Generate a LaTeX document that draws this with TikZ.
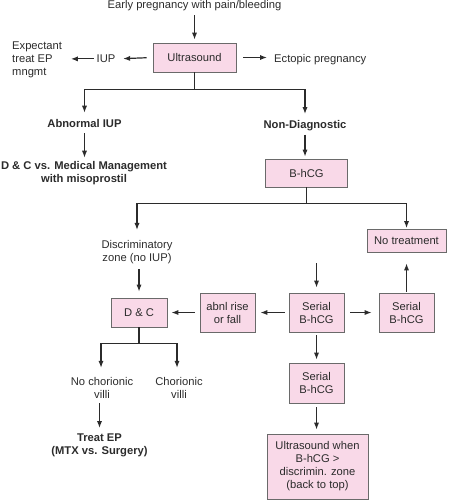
\documentclass[tikz,border=0pt]{standalone}
\usepackage{fontspec}
\setmainfont{Liberation Sans}
\usetikzlibrary{arrows.meta}
\definecolor{ink}{HTML}{2B2B2B}
\definecolor{edge}{HTML}{6A6A6A}
\definecolor{pinkfill}{HTML}{F9D9E8}
\newcommand{\flowfont}{\fontsize{11.2}{13}\selectfont}
\tikzset{
  flow/.style={-{Latex[length=7pt,width=5.2pt]},draw=ink,line width=1.2pt},
  plain/.style={inner sep=1pt,align=center,font=\flowfont},
  strong/.style={plain,font=\flowfont\bfseries},
  pinkbox/.style={draw=edge,fill=pinkfill,line width=.8pt,inner sep=0pt,
    align=center,font=\flowfont,minimum width=55pt,minimum height=39pt}
}

\begin{document}
\begin{tikzpicture}[x=1pt,y=-1pt,every node/.style={text=ink}]
  \useasboundingbox (0,0) rectangle (449,500);

  % Start and first ultrasound.
  \node[plain] (start) at (194.5,6) {Early pregnancy with pain/bleeding};
  \node[pinkbox,minimum width=83pt,minimum height=29pt] (us) at (194.5,57.5) {Ultrasound};
  \node[plain] (iup) at (106,58.9) {IUP};
  \node[plain,align=left,anchor=west] (expect) at (11,60.1)
    {Expectant\\treat EP\\mngmt};
  \node[plain,anchor=west] (ectopic) at (273,59.9) {Ectopic pregnancy};
  \draw[flow,shorten <=3pt,shorten >=3pt] (start) -- (us);
  \draw[flow,shorten <=6pt,shorten >=6.6pt] (us.west) -- (iup.east);
  \draw[flow,shorten <=1.6pt,shorten >=7.7pt] (iup.west) -- (iup.west -| expect.east);
  \draw[flow,shorten <=7pt,shorten >=6pt] (us.east) -- (us.east -| ectopic.west);

  % Abnormal IUP or non-diagnostic.
  \node[strong] (abn) at (84.5,123) {Abnormal IUP};
  \node[strong] (dcmed) at (84,173.6)
    {D \& C vs. Medical Management\\with misoprostil};
  \node[strong] (nondiag) at (305,125.2) {Non-Diagnostic};
  \node[pinkbox,minimum width=82pt,minimum height=28pt] (bhcg) at (306.5,173) {B-hCG};
  \draw[flow,shorten >=5pt] (us.south) -- ++(0,17) -| (abn.north);
  \draw[flow,shorten >=4.7pt] (us.south) -- ++(0,17) -| (nondiag.north);
  \draw[flow,shorten <=5pt,shorten >=3pt] (abn.south) -- (abn.south |- dcmed.north);
  \draw[flow,shorten <=3pt,shorten >=2pt] (nondiag.south) -- (nondiag.south |- bhcg.north);

  % After the B-hCG.
  \node[plain] (disc) at (137,251.6) {Discriminatory\\zone (no IUP)};
  \node[pinkbox,minimum width=79pt,minimum height=23pt] (notreat) at (406.5,240.5) {No treatment};
  \draw[flow,shorten >=8.7pt] (bhcg.south) -- ++(0,16) -| (disc.north);
  \draw[flow,shorten >=.5pt] (bhcg.south) -- ++(0,16) -| (notreat.north);

  % Serial B-hCG row.
  \node[pinkbox,minimum width=56pt,minimum height=29pt] (dc) at (139,312.5) {D \& C};
  \node[pinkbox] (abnl) at (227.5,312.5) {abnl rise\\or fall};
  \node[pinkbox] (serial) at (316.5,312.5) {Serial\\B-hCG};
  \node[pinkbox] (serialr) at (406.5,312.5) {Serial\\B-hCG};
  \coordinate (feed) at (316.5,263);
  \draw[flow,shorten <=4.7pt,shorten >=6pt] (disc.south -| dc.north) -- (dc.north);
  \draw[flow,shorten <=4pt,shorten >=5pt] (serial) -- (abnl);
  \draw[flow,shorten <=5pt,shorten >=4pt] (abnl) -- (dc);
  \draw[flow,shorten <=6pt,shorten >=7pt] (serial) -- (serialr);
  \draw[flow,shorten <=1pt,shorten >=11pt] (serialr) -- (notreat);
  \draw[flow,shorten >=5pt] (feed) -- (serial);

  % D & C result.
  \node[plain] (novilli) at (102,388.4) {No chorionic\\villi};
  \node[plain] (villi) at (179,388.4) {Chorionic\\villi};
  \node[strong] (treat) at (99.5,445.6) {Treat EP\\(MTX vs. Surgery)};
  \draw[flow,shorten >=8.8pt] (dc.south) -- ++(0,16) -| ([xshift=-1pt]novilli.north);
  \draw[flow,shorten >=8.8pt] (dc.south) -- ++(0,16) -| ([xshift=-2pt]villi.north);
  \draw[flow,shorten <=3pt,shorten >=4.8pt] (treat.north |- novilli.south) -- (treat.north);

  % Down the serial column.
  \node[pinkbox,minimum height=40pt] (serialb) at (316.5,383) {Serial\\B-hCG};
  \node[pinkbox,minimum width=101pt,minimum height=65pt] (uswhen) at (317.5,466.5)
    {Ultrasound when\\B-hCG >\\discrimin. zone\\(back to top)};
  \draw[flow,shorten <=3pt,shorten >=3pt] (serial) -- (serialb);
  \draw[flow,shorten <=4pt,shorten >=4pt] (serialb.south) -- (serialb.south |- uswhen.north);
\end{tikzpicture}
\end{document}
